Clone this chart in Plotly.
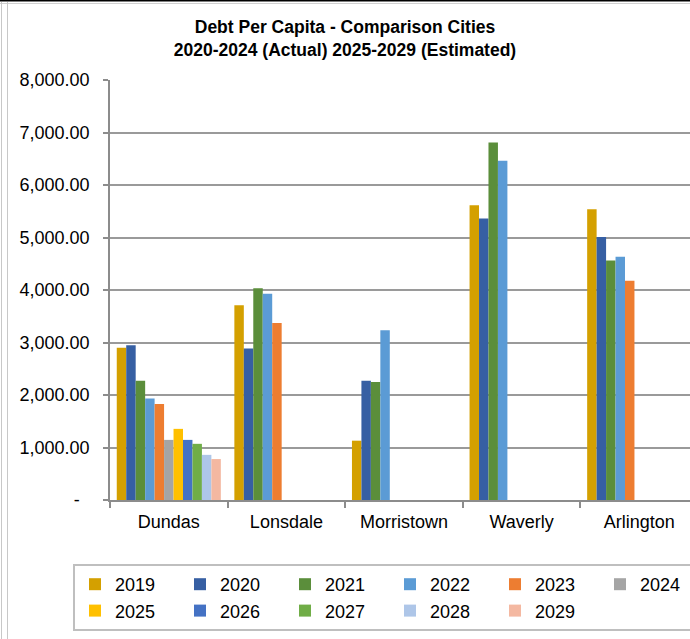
import plotly.graph_objects as go

cities = ["Dundas", "Lonsdale", "Morristown", "Waverly", "Arlington"]
years = ["2019", "2020", "2021", "2022", "2023", "2024",
         "2025", "2026", "2027", "2028", "2029"]

v2019 = [2900, 3710, 1130, 5615, 5540]
v2020 = [2950, 2885, 2270, 5360, 5010]
v2021 = [2270, 4035, 2250, 6810, 4560]
v2022 = [1935, 3930, 3235, 6460, 4635]
v2023 = [1830, 3370, None, None, 4175]
v2024 = [1145, None, None, None, None]
v2025 = [1355, None, None, None, None]
v2026 = [1145, None, None, None, None]
v2027 = [1070, None, None, None, None]
v2028 = [860, None, None, None, None]
v2029 = [780, None, None, None, None]
series = [v2019, v2020, v2021, v2022, v2023, v2024,
          v2025, v2026, v2027, v2028, v2029]

colors = ["#D4A000", "#365FA3", "#5B8E3B", "#5B9BD5", "#ED7D31", "#A5A5A5",
          "#FFC000", "#4472C4", "#70AD47", "#AEC6E8", "#F4B8A1"]

y_tickvals = [0, 1000, 2000, 3000, 4000, 5000, 6000, 7000, 8000]
y_ticktext = ["-<span style='color:rgba(0,0,0,0)'>0</span>",
              "1,000.00", "2,000.00", "3,000.00", "4,000.00",
              "5,000.00", "6,000.00", "7,000.00", "8,000.00"]

title_text = "<b>Debt Per Capita - Comparison Cities<br>2020-2024 (Actual) 2025-2029 (Estimated)</b>"

FONT = "Arial, Liberation Sans, sans-serif"
W, H = 690, 639
L, R, T, B = 110, 0, 80, 139
pw = W - L - R
ph = H - T - B

fig = go.Figure()
for name, vals, c in zip(years, series, colors):
    fig.add_trace(go.Bar(
        x=cities, y=vals, name=name,
        marker=dict(color=c, line=dict(width=0)),
    ))

def px_x(p):
    return (p - L) / pw

def px_y(p):
    return (H - B - p) / ph

# page frame decorations
shapes = [
    dict(type="line", xref="paper", yref="paper", x0=px_x(0), x1=px_x(W),
         y0=px_y(0.5), y1=px_y(0.5), line=dict(color="#000000", width=2)),
    dict(type="line", xref="paper", yref="paper", x0=px_x(0), x1=px_x(W),
         y0=px_y(3.5), y1=px_y(3.5), line=dict(color="#D0D0D0", width=1)),
    dict(type="line", xref="paper", yref="paper", x0=px_x(1.5), x1=px_x(1.5),
         y0=px_y(2), y1=px_y(H), line=dict(color="#C8C8C8", width=1)),
    dict(type="line", xref="paper", yref="paper", x0=px_x(7.5), x1=px_x(7.5),
         y0=px_y(2), y1=px_y(H), line=dict(color="#C8C8C8", width=1)),
]

fig.update_layout(
    width=W, height=H,
    margin=dict(l=L, r=R, t=T, b=B, pad=0, autoexpand=False),
    paper_bgcolor="white", plot_bgcolor="white",
    barmode="group", bargap=0.115, bargroupgap=0,
    font=dict(family=FONT, size=18, color="#000000"),
    title=dict(text=title_text, x=0.5, xref="container", xanchor="center",
               y=1 - 33 / H, yref="container", yanchor="top",
               font=dict(family=FONT, size=17.5, color="#000000")),
    shapes=shapes,
    showlegend=True,
    legend=dict(orientation="h", x=px_x(73), y=px_y(564), xanchor="left", yanchor="top",
                bordercolor="#BFBFBF", borderwidth=2, bgcolor="white",
                font=dict(family=FONT, size=18, color="#000000"),
                entrywidth=60, entrywidthmode="pixels",
                traceorder="normal", itemclick=False),
)

fig.update_xaxes(
    range=[-0.5, 4.5 - 8 / 117.7],
    showline=True, linecolor="#8C8C8C", linewidth=1.5,
    ticks="outside", tickson="boundaries", ticklen=6, tickcolor="#8C8C8C", tickwidth=1.5,
    showgrid=False, tickfont=dict(family=FONT, size=18, color="#000000"),
    ticklabelstandoff=5,
)
fig.update_yaxes(
    range=[0, 8000], tickvals=y_tickvals, ticktext=y_ticktext,
    showline=True, linecolor="#8C8C8C", linewidth=1.5,
    ticks="outside", ticklen=5, tickcolor="#8C8C8C", tickwidth=1.5,
    showgrid=True, gridcolor="#9A9A9A", gridwidth=1.5,
    zeroline=False, tickfont=dict(family=FONT, size=18, color="#000000"),
    ticklabelstandoff=10,
)

fig.write_html("out.html")
